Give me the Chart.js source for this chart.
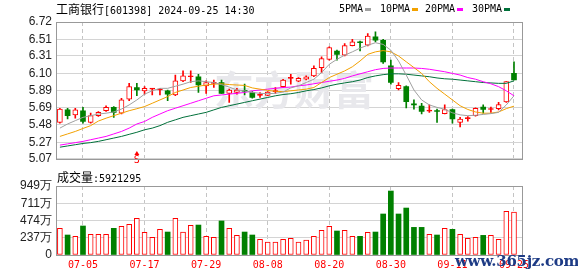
<!DOCTYPE html>
<html>
<head>
<meta charset="utf-8">
<script src="https://cdn.jsdelivr.net/npm/chart.js@4.4.1/dist/chart.umd.min.js"></script>
<style>
  html, body { margin: 0; padding: 0; background: #fff; }
  #wrap { position: relative; width: 578px; height: 276px; overflow: hidden; }
  canvas { position: absolute; left: 0; }
  #kline { top: 0; }
  #vol { top: 170px; }
  .txt { position: absolute; white-space: nowrap; font-size: 12px; line-height: 14px; color: #000;
         font-family: "DejaVu Sans Mono", "Noto Sans CJK SC", monospace; }
  .txt .cn { font-family: "Noto Sans CJK SC", sans-serif; font-size: 12px; }
  .asc { font-size: 10px; }
  .sw { position: absolute; width: 6px; height: 3px; }
  #site { position: absolute; left: 455px; top: 252px; font-family: "DejaVu Serif", serif; font-weight: bold;
          font-size: 15px; color: #1d3b85; white-space: nowrap; letter-spacing: -0.3px; }
</style>
</head>
<body>
<div id="wrap">
  <canvas id="kline" width="578" height="170"></canvas>
  <canvas id="vol" width="578" height="106"></canvas>
  <div class="txt" style="left:56px; top:2px;"><span class="cn">工商银行</span><span class="asc">[601398] 2024-09-25 14:30</span></div>
  <div id="legend"></div>
  <div class="txt" style="left:57px; top:170px;"><span class="cn">成交量</span><span class="asc">:5921295</span></div>
  <div id="site">www.365jz.com</div>
</div>
<script>
// 交易日（07-02 ~ 09-25）
const dates = ['07-02','07-03','07-04','07-05','07-08','07-09','07-10','07-11','07-12','07-15','07-16','07-17','07-18','07-19','07-22','07-23','07-24','07-25','07-26','07-29','07-30','07-31',
    '08-01','08-02','08-05','08-06','08-07','08-08','08-09','08-12','08-13','08-14','08-15','08-16','08-19','08-20','08-21','08-22','08-23','08-26','08-27','08-28','08-29','08-30',
    '09-02','09-03','09-04','09-05','09-06','09-09','09-10','09-11','09-12','09-13','09-18','09-19','09-20','09-23','09-24','09-25'];

// K线：开 高 低 收
const openP = [5.51,5.66,5.60,5.65,5.51,5.59,5.65,5.69,5.62,5.79, 5.93,5.89,5.91,5.90,5.89,5.84,6.01,6.06,6.06,5.95,
    5.98,5.99,5.86,5.87,5.895,5.87,5.835,5.835,5.88,5.94, 6.04,6.005,6.03,6.07,6.17,6.27,6.37,6.32,6.435,6.48,
    6.44,6.54,6.50,6.19,5.915,5.94,5.73,5.705,5.645,5.65, 5.615,5.665,5.51,5.555,5.59,5.695,5.665,5.675,5.755,6.10];
const highP = [5.68,5.68,5.68,5.69,5.62,5.64,5.71,5.70,5.80,5.98, 5.98,5.94,5.92,5.92,5.90,6.08,6.13,6.13,6.09,6.01,
    6.02,6.02,5.91,5.92,5.97,5.88,5.87,5.88,5.93,6.03, 6.09,6.05,6.07,6.19,6.30,6.42,6.38,6.46,6.51,6.49,
    6.58,6.60,6.51,6.26,5.99,5.95,5.78,5.74,5.72,5.67, 5.72,5.67,5.57,5.58,5.685,5.72,5.695,5.75,6.00,6.24];
const lowP = [5.50,5.55,5.56,5.50,5.50,5.58,5.64,5.57,5.61,5.77, 5.83,5.85,5.84,5.84,5.77,5.83,6.00,5.99,5.87,5.86,
    5.93,5.86,5.75,5.85,5.84,5.80,5.81,5.83,5.86,5.93, 5.97,6.00,6.02,6.06,6.11,6.26,6.26,6.31,6.43,6.37,
    6.43,6.48,6.22,5.97,5.90,5.685,5.67,5.61,5.63,5.51, 5.61,5.50,5.455,5.525,5.585,5.62,5.63,5.66,5.75,6.02];
const closeP = [5.67,5.59,5.66,5.52,5.59,5.63,5.69,5.63,5.78,5.94, 5.90,5.92,5.92,5.91,5.85,6.01,6.07,6.07,5.96,5.99,
    5.99,5.86,5.90,5.90,5.885,5.81,5.845,5.875,5.89,6.02, 6.05,6.04,6.06,6.16,6.28,6.41,6.33,6.435,6.48,6.47,
    6.55,6.50,6.24,5.99,5.955,5.76,5.72,5.64,5.655,5.64, 5.665,5.55,5.55,5.565,5.68,5.665,5.675,5.725,6.00,6.02];

// 均线
const ma5 = [5.44,5.49,5.53,5.57,5.59,5.61,5.62,5.635,5.67,5.72, 5.78,5.85,5.89,5.92,5.92,5.945,5.97,6.00,6.01,6.00,
    5.99,5.965,5.935,5.90,5.89,5.87,5.86,5.855,5.86,5.875, 5.925,5.95,5.99,6.03,6.11,6.21,6.27,6.32,6.36,6.405,
    6.44,6.47,6.45,6.38,6.25,6.08,5.90,5.78,5.72,5.69, 5.667,5.625,5.60,5.59,5.595,5.605,5.615,5.63,5.72,5.83];
const ma10 = [5.34,5.37,5.40,5.436,5.47,5.525,5.56,5.59,5.62,5.65, 5.674,5.70,5.74,5.78,5.82,5.87,5.90,5.93,5.945,5.96,
    5.97,5.975,5.965,5.96,5.955,5.925,5.91,5.895,5.885,5.88, 5.89,5.90,5.91,5.93,5.99,6.05,6.09,6.13,6.18,6.25,
    6.33,6.36,6.375,6.36,6.31,6.24,6.17,6.10,6.00,5.92, 5.85,5.78,5.71,5.665,5.635,5.62,5.62,5.635,5.675,5.705];
const ma20 = [5.235,5.25,5.265,5.28,5.30,5.32,5.34,5.37,5.40,5.44, 5.49,5.52,5.57,5.61,5.65,5.68,5.71,5.74,5.77,5.80,
    5.83,5.84,5.85,5.86,5.87,5.89,5.90,5.91,5.92,5.93, 5.935,5.95,5.96,5.975,5.99,6.005,6.02,6.04,6.07,6.095,
    6.12,6.145,6.16,6.165,6.165,6.165,6.165,6.16,6.15,6.135, 6.12,6.10,6.08,6.05,6.03,6.00,5.975,5.94,5.89,5.83];
const ma30 = [5.21,5.225,5.24,5.255,5.265,5.28,5.30,5.32,5.34,5.365, 5.39,5.42,5.44,5.47,5.51,5.54,5.57,5.59,5.61,5.63,
    5.66,5.69,5.71,5.73,5.75,5.77,5.79,5.81,5.83,5.845, 5.855,5.87,5.89,5.905,5.925,5.95,5.97,5.985,6.00,6.02,
    6.05,6.07,6.085,6.095,6.095,6.09,6.08,6.07,6.06,6.045, 6.035,6.03,6.02,6.01,6.00,5.99,5.985,5.98,5.98,6.01];

// 成交量（万手），1 = 红，0 = 绿
const volume = [367,275,257,399,284,284,284,367,394,422, 504,312,243,353,316,504,316,408,412,257,
    243,468,367,270,316,275,216,179,179,216, 229,179,206,257,339,394,330,339,257,257,
    312,316,564,880,564,646,380,380,284,275, 367,353,284,229,243,270,270,216,600,592];
const volUp = [1,0,1,0,1,1,1,0,1,1, 1,1,1,1,0,1,1,1,0,1, 1,0,1,1,0,0,1,1,1,1,
    1,1,1,1,1,1,0,1,1,0, 1,0,0,0,0,0,0,0,1,0, 1,0,1,1,1,0,1,1,1,1];

const priceTicks = [6.72, 6.51, 6.31, 6.10, 5.89, 5.69, 5.48, 5.27, 5.07];
const volTicks = [0, 237, 474, 711, 949];
const dateTicks = ['07-05', '07-17', '07-29', '08-08', '08-20', '08-30', '09-11', '09-25'];
const maNames = ['5PMA', '10PMA', '20PMA', '30PMA'];
const maColors = ['#a0a0a0', '#f2a100', '#ff00ff', '#00703a'];
const signalDate = '07-16';

const RED = '#ff0000';
const GREEN = '#008000';
const tickIdx = dateTicks.map(d => dates.indexOf(d));
const isUp = i => closeP[i] >= openP[i];

// 图例
const legendPos = [339, 380, 425, 472];
const legend = document.getElementById('legend');
maNames.forEach((name, k) => {
    const x = legendPos[k];
    legend.insertAdjacentHTML('beforeend',
        `<div class="txt asc" style="left:${x}px; top:2px; font-size:10px;">${name}</div>` +
        `<div class="sw" style="left:${x + name.length * 6 + 2}px; top:8px; background:${maColors[k]};"></div>`);
});

// 边框
const framePlugin = {
    id: 'frame',
    afterDraw(chart) {
        const { ctx, chartArea: a } = chart;
        ctx.save();
        ctx.strokeStyle = '#999';
        ctx.lineWidth = 1;
        ctx.strokeRect(Math.round(a.left) + 0.5, Math.round(a.top) + 0.5,
            Math.round(a.right) - Math.round(a.left), Math.round(a.bottom) - Math.round(a.top));
        ctx.restore();
    }
};

// 水印 + S 信号
const markPlugin = {
    id: 'marks',
    beforeDatasetsDraw(chart) {
        const { ctx } = chart;
        ctx.save();
        ctx.font = 'bold 40px "Noto Sans CJK SC"';
        ctx.fillStyle = '#e8e8ec';
        ctx.textBaseline = 'middle';
        ctx.fillText('东方财富', 214, 90);
        ctx.restore();
    },
    afterDatasetsDraw(chart) {
        const { ctx } = chart;
        const x = chart.scales.x.getPixelForValue(dates.indexOf(signalDate));
        ctx.save();
        ctx.fillStyle = RED;
        ctx.beginPath();
        ctx.moveTo(x, 151);
        ctx.lineTo(x - 2.5, 155);
        ctx.lineTo(x + 2.5, 155);
        ctx.closePath();
        ctx.fill();
        ctx.font = '10px "DejaVu Sans Mono"';
        ctx.textAlign = 'center';
        ctx.textBaseline = 'middle';
        ctx.fillText('S', x, 160);
        ctx.restore();
    }
};

function xScale(showLabels) {
    return {
        type: 'linear', min: -0.506, max: 60.04, offset: false,
        afterBuildTicks: s => { s.ticks = tickIdx.map(v => ({ value: v })); },
        afterFit: s => { s.height = showLabels ? 21 : 0; },
        ticks: {
            display: showLabels, autoSkip: false, maxRotation: 0, padding: 4, color: RED,
            font: { family: 'DejaVu Sans Mono', size: 10 },
            callback: v => dates[v]
        },
        grid: { offset: false, color: '#c4c4c4', drawTicks: false },
        border: { display: false, dash: [4, 3] }
    };
}

new Chart(document.getElementById('kline'), {
    type: 'bar',
    data: {
        datasets: [
            ...[ma5, ma10, ma20, ma30].map((arr, k) => ({
                type: 'line', label: maNames[k], order: 0,
                data: arr.map((v, i) => ({ x: i, y: v })),
                borderColor: maColors[k], borderWidth: 1, pointRadius: 0, tension: 0
            })),
            {
                type: 'bar', label: 'body', order: 1, grouped: false,
                data: dates.map((d, i) => ({ x: i, y: [openP[i], closeP[i]] })),
                barThickness: 5, minBarLength: 1, borderSkipped: false,
                backgroundColor: c => isUp(c.dataIndex) ? (closeP[c.dataIndex] - openP[c.dataIndex] > 0.012 ? '#fff' : RED) : GREEN,
                borderColor: c => isUp(c.dataIndex) ? RED : GREEN,
                borderWidth: c => isUp(c.dataIndex) ? 1 : 0
            },
            {
                type: 'bar', label: 'wick', order: 2, grouped: false,
                data: dates.map((d, i) => ({ x: i, y: [lowP[i], highP[i]] })),
                barThickness: 1, borderSkipped: false,
                backgroundColor: c => isUp(c.dataIndex) ? RED : GREEN
            }
        ]
    },
    options: {
        responsive: false, animation: false,
        layout: { padding: { top: 22, right: 56, bottom: 5, left: 0 } },
        plugins: { legend: { display: false }, tooltip: { enabled: false } },
        scales: {
            x: xScale(false),
            y: {
                min: 5.07, max: 6.72, beginAtZero: false,
                afterBuildTicks: s => { s.ticks = priceTicks.map(v => ({ value: v })); },
                afterFit: s => { s.width = 56; },
                ticks: { autoSkip: false, padding: 4, color: '#222', font: { family: 'Liberation Sans', size: 12 }, callback: v => v.toFixed(2) },
                grid: { color: '#d4d4d4', drawTicks: false },
                border: { display: false }
            }
        }
    },
    plugins: [markPlugin, framePlugin]
});

new Chart(document.getElementById('vol'), {
    type: 'bar',
    data: {
        datasets: [{
            label: '成交量', grouped: false,
            data: volume.map((v, i) => ({ x: i, y: v })),
            barThickness: 5, borderSkipped: false,
            backgroundColor: c => volUp[c.dataIndex] ? '#fff' : GREEN,
            borderColor: c => volUp[c.dataIndex] ? RED : GREEN,
            borderWidth: c => volUp[c.dataIndex] ? 1 : 0
        }]
    },
    options: {
        responsive: false, animation: false,
        layout: { padding: { top: 16, right: 56, bottom: 0, left: 0 } },
        plugins: { legend: { display: false }, tooltip: { enabled: false } },
        scales: {
            x: xScale(true),
            y: {
                min: 0, max: 949,
                afterBuildTicks: s => { s.ticks = volTicks.map(v => ({ value: v })); },
                afterFit: s => { s.width = 56; },
                ticks: { autoSkip: false, padding: 4, color: '#222', font: { family: 'Liberation Sans', size: 12 }, callback: v => v === 0 ? '0' : v + '万' },
                grid: { color: '#d4d4d4', drawTicks: false },
                border: { display: false }
            }
        }
    },
    plugins: [framePlugin]
});
</script>
</body>
</html>
